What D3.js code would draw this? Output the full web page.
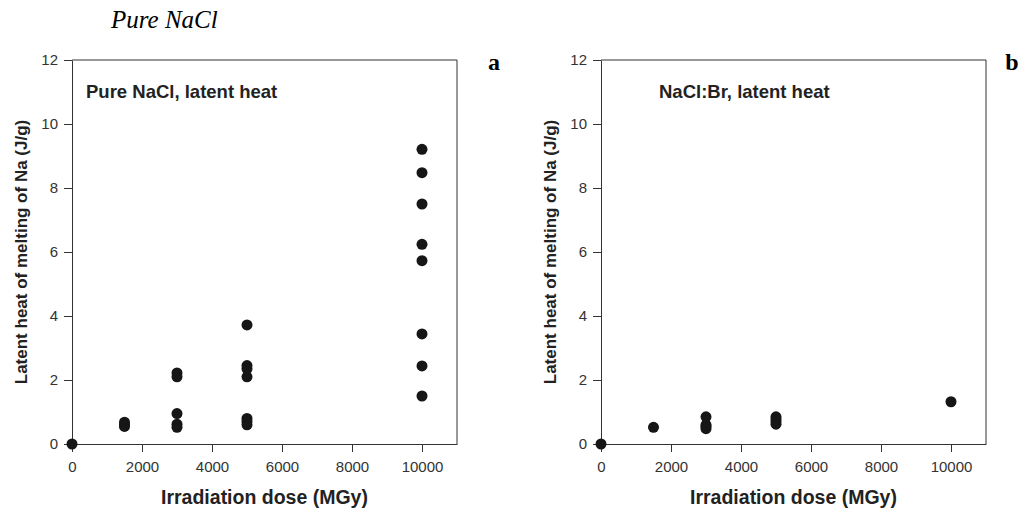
<!DOCTYPE html>
<html>
<head>
<meta charset="utf-8">
<script src="https://cdn.jsdelivr.net/npm/d3@7"></script>
<style>
  body { margin: 0; background: #fff; }
  svg { display: block; }
  .tick text { font-family: "Liberation Sans", Arial, sans-serif; font-size: 15px; fill: #333; }
  .tick line, .domain { stroke: #333; }
</style>
</head>
<body>
<div id="chart"></div>
<script>
// pure NaCl (panel a)
var doseA = [0, 1500, 1500, 1500, 3000, 3000, 3000, 3000, 3000,
  5000, 5000, 5000, 5000, 5000, 5000, 5000,
  10000, 10000, 10000, 10000, 10000, 10000, 10000, 10000];
var heatA = [0, 0.55, 0.6, 0.68, 2.22, 2.1, 0.95, 0.62, 0.52,
  3.72, 2.45, 2.35, 2.1, 0.8, 0.7, 0.6,
  9.21, 8.48, 7.5, 6.24, 5.73, 3.44, 2.44, 1.5];

// NaCl:Br (panel b)
var doseB = [0, 1500, 3000, 3000, 3000, 3000, 5000, 5000, 5000, 5000, 10000];
var heatB = [0, 0.52, 0.85, 0.6, 0.55, 0.48, 0.85, 0.78, 0.7, 0.62, 1.32];

var xTicks = [0, 2000, 4000, 6000, 8000, 10000];
var yTicks = [0, 2, 4, 6, 8, 10, 12];

var width = 1026, height = 508;
var plotW = 385, plotH = 384, plotTop = 60;

var svg = d3.select('#chart').append('svg')
  .attr('width', width)
  .attr('height', height);

svg.append('text')
  .attr('x', 111).attr('y', 28)
  .style('font-family', '"Liberation Serif", "Times New Roman", serif')
  .style('font-style', 'italic')
  .style('font-size', '25px')
  .text('Pure NaCl');

function drawPanel(left, dose, heat, label, labelX, letter, letterX) {
  var x = d3.scaleLinear().domain([0, 11000]).range([0, plotW]);
  var y = d3.scaleLinear().domain([0, 12]).range([plotH, 0]);

  var g = svg.append('g')
    .attr('transform', 'translate(' + left + ',' + plotTop + ')');

  // frame
  g.append('path')
    .attr('d', 'M0,0H' + plotW + 'V' + plotH)
    .attr('fill', 'none')
    .attr('stroke', '#333');

  g.append('g')
    .attr('transform', 'translate(0,' + plotH + ')')
    .call(d3.axisBottom(x).tickValues(xTicks).tickSize(8).tickPadding(9).tickSizeOuter(0).tickFormat(d3.format('d')));

  g.append('g')
    .call(d3.axisLeft(y).tickValues(yTicks).tickSize(8).tickPadding(6).tickSizeOuter(0));

  g.selectAll('circle.pt')
    .data(dose.map(function(d, i) { return { d: d, h: heat[i] }; }))
    .enter()
    .append('circle')
    .attr('class', 'pt')
    .attr('cx', function(p) { return x(p.d); })
    .attr('cy', function(p) { return y(p.h); })
    .attr('r', 5.5)
    .attr('fill', '#161616');

  g.append('text')
    .attr('x', labelX).attr('y', 38)
    .style('font-family', '"Liberation Sans", Arial, sans-serif')
    .style('font-weight', 'bold')
    .style('font-size', '18.5px')
    .style('fill', '#222')
    .text(label);

  g.append('text')
    .attr('x', plotW / 2).attr('y', 444)
    .attr('text-anchor', 'middle')
    .style('font-family', '"Liberation Sans", Arial, sans-serif')
    .style('font-weight', 'bold')
    .style('font-size', '19.5px')
    .style('fill', '#222')
    .text('Irradiation dose (MGy)');

  g.append('text')
    .attr('transform', 'translate(-45,' + (plotH / 2) + ') rotate(-90)')
    .attr('text-anchor', 'middle')
    .style('font-family', '"Liberation Sans", Arial, sans-serif')
    .style('font-weight', 'bold')
    .style('font-size', '17px')
    .style('fill', '#222')
    .text('Latent heat of melting of Na (J/g)');

  g.append('text')
    .attr('x', letterX).attr('y', 10)
    .attr('text-anchor', 'middle')
    .style('font-family', '"Liberation Serif", "Times New Roman", serif')
    .style('font-weight', 'bold')
    .style('font-size', '24px')
    .text(letter);
}

drawPanel(72, doseA, heatA, 'Pure NaCl, latent heat', 14, 'a', 422);
drawPanel(601, doseB, heatB, 'NaCl:Br, latent heat', 58, 'b', 411);
</script>
</body>
</html>
